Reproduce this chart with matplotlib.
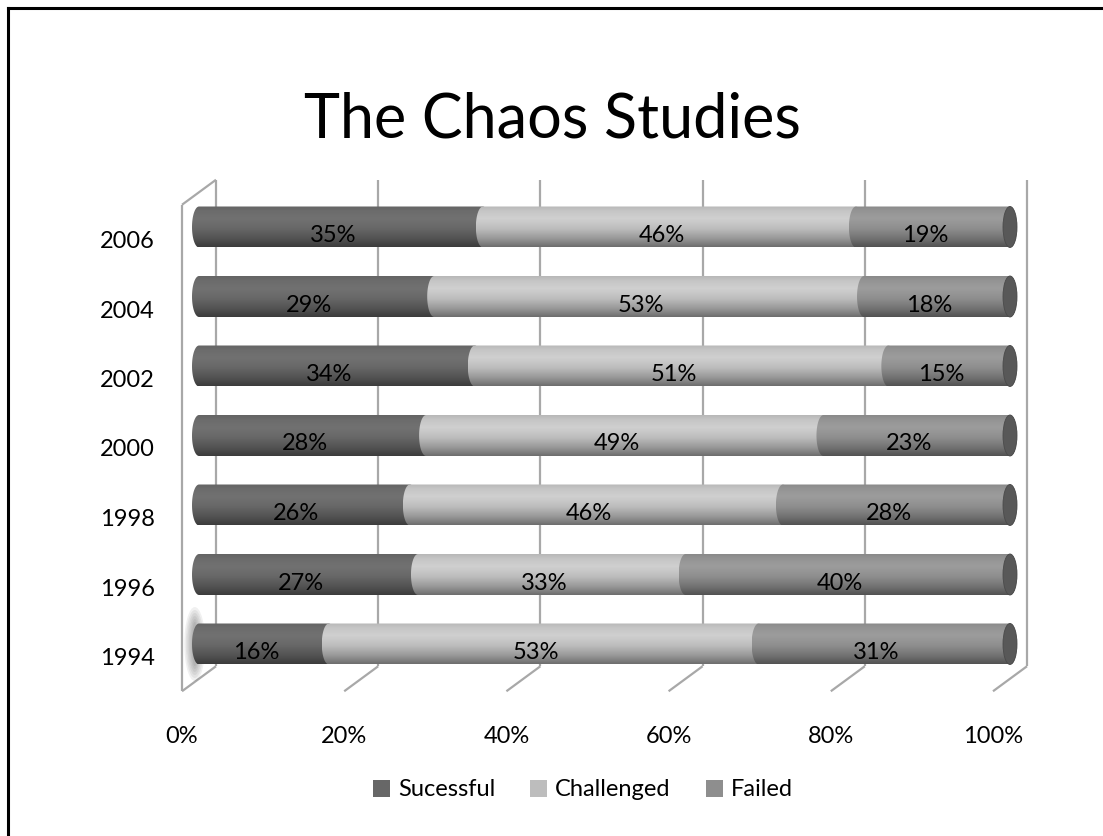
import numpy as np
import matplotlib.pyplot as plt
from matplotlib.colors import to_rgb
from matplotlib.patches import PathPatch, Ellipse, Patch
from matplotlib.path import Path
from matplotlib.lines import Line2D

plt.rcParams['font.family'] = ['Lato', 'DejaVu Sans']

# data (percent of projects)
years = ['1994', '1996', '1998', '2000', '2002', '2004', '2006']
successful = [16, 27, 26, 28, 34, 29, 35]
challenged = [53, 33, 46, 49, 51, 53, 46]
failed = [31, 40, 28, 23, 15, 18, 19]
series_names = ['Sucessful', 'Challenged', 'Failed']
series_colors = ['#676767', '#bdbdbd', '#8e8e8e']
xticks = [0, 20, 40, 60, 80, 100]

W, H = 1103, 836
PX_X = 8.11   # pixels per percent
PX_Y = 69.5   # pixels per category
X0, Y0 = 199, 192

fig = plt.figure(figsize=(W / 100, H / 100), dpi=100)
ax = fig.add_axes([0, 0, 1, 1])
ax.axis('off')

# 3d depth offsets (data units)
dxb = 17 / PX_X
dyb = 12.5 / PX_Y
hb = 41 / PX_Y      # bar height
ex = 7 / PX_X       # half width of cylinder end

# back wall, side wall and floor lines
grid_kw = dict(color='#a8a8a8', lw=1.6, zorder=1, solid_capstyle='butt')
for p in xticks:
    ax.plot([p + dxb, p + dxb], [-0.5 + dyb, 6.5 + dyb], **grid_kw)
    ax.plot([p + dxb, p - dxb], [-0.5 + dyb, -0.5 - dyb], **grid_kw)
ax.plot([-dxb, -dxb], [-0.5 - dyb, 6.5 - dyb], **grid_kw)
ax.plot([-dxb, dxb], [6.5 - dyb, 6.5 + dyb], **grid_kw)

# cylinder shading
prof_t = [0.0, 0.1, 0.3, 0.55, 0.8, 1.0]
prof_f = [0.97, 1.04, 1.1, 1.0, 0.8, 0.58]


def shaded(color, n=80):
    t = np.linspace(0, 1, n)
    f = np.interp(t, prof_t, prof_f)
    rgb = np.clip(np.outer(f, to_rgb(color)), 0, 1)
    return rgb[:, None, :]


def cyl_path(x0, x1, y):
    th_l = np.linspace(np.pi / 2, 3 * np.pi / 2, 30)
    th_r = np.linspace(-np.pi / 2, np.pi / 2, 30)
    pts = [(x0 + ex * np.cos(a), y + hb / 2 * np.sin(a)) for a in th_l]
    pts += [(x1 + ex * np.cos(a), y + hb / 2 * np.sin(a)) for a in th_r]
    pts.append(pts[0])
    return Path(pts, closed=True)


# soft shadow at the left end of the lowest bar
for k in range(6):
    ax.add_patch(Ellipse((-ex * 0.6, 0), (6 + 3 * k) / PX_X, (44 + 6 * k) / PX_Y,
                         color='#303030', alpha=0.07, lw=0, zorder=2))

for i, yr in enumerate(years):
    left = 0
    for k, vals in enumerate([successful, challenged, failed]):
        v = vals[i]
        x1 = left + v
        patch = PathPatch(cyl_path(left, x1, i), facecolor='none', edgecolor='none', zorder=3 + k)
        ax.add_patch(patch)
        im = ax.imshow(shaded(series_colors[k]), extent=(left - ex, x1 + ex, i - hb / 2, i + hb / 2),
                       aspect='auto', interpolation='bilinear', zorder=3 + k)
        im.set_clip_path(patch)
        ax.text((left + x1) / 2 - 8 / PX_X, i - 15 / PX_Y, f'{v}%', ha='center', va='baseline',
                fontsize=17, color='black', zorder=10)
        left = x1
    ax.add_patch(Ellipse((left, i), 2 * ex, hb, facecolor='#585858', edgecolor='#4a4a4a', lw=0.6, zorder=7))
    ax.text(-dxb - 27 / PX_X, i - 21 / PX_Y, yr, ha='right', va='baseline', fontsize=17)

for p in xticks:
    ax.text(p - dxb, -0.5 - dyb - 52 / PX_Y, f'{p}%', ha='center', va='baseline', fontsize=17)

ax.set_xlim(-X0 / PX_X, (W - X0) / PX_X)
ax.set_ylim(-Y0 / PX_Y, (H - Y0) / PX_Y)

fig.text(552 / W, 1 - 137 / H, 'The Chaos Studies', ha='center', va='baseline', fontsize=44)

handles = [Patch(facecolor=c, edgecolor='none') for c in series_colors]
fig.legend(handles, series_names, loc='center', bbox_to_anchor=(583 / W, 1 - 790 / H), ncol=3,
           frameon=False, fontsize=17, handlelength=0.7, handleheight=0.7, handletextpad=0.35,
           columnspacing=1.5)

# slide border
fig.add_artist(Line2D([8 / W, 8 / W], [0, 1 - 8 / H], transform=fig.transFigure, color='black', lw=2.2))
fig.add_artist(Line2D([8 / W, 1], [1 - 8 / H, 1 - 8 / H], transform=fig.transFigure, color='black', lw=2.2))

fig.savefig('out.png', dpi=100)
